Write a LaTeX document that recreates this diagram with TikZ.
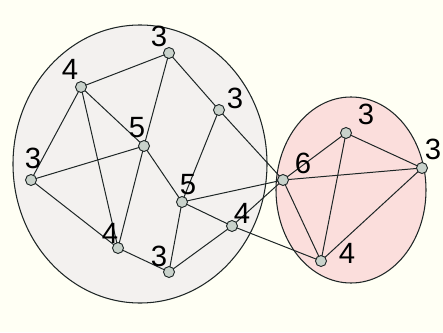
\documentclass[tikz,border=0pt]{standalone}
\usepackage{fontspec}
\setmainfont{Liberation Sans}
\usepackage{tikz}
\usetikzlibrary{positioning}

\definecolor{paper}{RGB}{255,255,244}
\definecolor{leftfill}{RGB}{243,241,239}
\definecolor{rightfill}{RGB}{251,222,220}
\definecolor{vfill}{RGB}{201,210,203}
\definecolor{ink}{RGB}{30,38,38}

\begin{document}
\begin{tikzpicture}[
  x=0.03cm, y=-0.03cm,
  v/.style={circle, draw=ink, fill=vfill, line width=0.8pt, inner sep=0pt, minimum size=0.33cm},
  num/.style={font=\fontsize{25}{25}\selectfont, inner sep=0pt},
  edge/.style={draw=ink, line width=0.85pt},
  grp/.style={draw=ink, line width=0.9pt}
]
  % background and bounds
  \fill[paper] (0,0) rectangle (443,332);
  \useasboundingbox (0,0) rectangle (443,332);

  % the two groups
  \draw[grp, fill=leftfill] (140,164) ellipse [x radius=127, y radius=139];
  \draw[grp, fill=rightfill] (351,190) ellipse [x radius=75, y radius=93];

  % vertices
  \coordinate (pa) at (169,53);
  \coordinate (pb) at (81,87);
  \coordinate (pc) at (219,110);
  \coordinate (pd) at (144,146);
  \coordinate (pe) at (31,180);
  \coordinate (pf) at (182,202);
  \coordinate (pg) at (232,226);
  \coordinate (ph) at (118,248);
  \coordinate (pi) at (169,272);
  \coordinate (pj) at (283,180);
  \coordinate (pk) at (346,133);
  \coordinate (pl) at (422,168);
  \coordinate (pm) at (321,261);

  % edges
  \foreach \s/\t in {pb/pa, pa/pd, pa/pc, pb/pd, pb/pe, pb/ph, pe/pd, pe/ph, pd/ph,
                     pd/pf, pc/pf, pc/pj, pf/pj, pf/pg, pf/pi, ph/pi, pi/pg, pg/pj,
                     pg/pm, pj/pk, pj/pl, pj/pm, pk/pl, pk/pm, pl/pm}
    \draw[edge] (\s) -- (\t);

  \foreach \p in {pa,pb,pc,pd,pe,pf,pg,ph,pi,pj,pk,pl,pm}
    \node[v] (v\p) at (\p) {};

  % degrees
  \node[num] (na) at (159,36) {3};
  \node[num] (nb) at (70,69) {4};
  \node[num] (nc) at (235,98) {3};
  \node[num] (nd) at (137,128) {5};
  \node[num] (ne) at (33,158) {3};
  \node[num] (nf) at (188,185) {5};
  \node[num] (ng) at (242,213) {4};
  \node[num] (nh) at (110,233) {4};
  \node[num] (ni) at (159,256) {3};
  \node[num] (nj) at (303,163) {6};
  \node[num] (nk) at (366,114) {3};
  \node[num] (nl) at (433,149) {3};
  \node[num] (nm) at (347,253) {4};
\end{tikzpicture}
\end{document}
